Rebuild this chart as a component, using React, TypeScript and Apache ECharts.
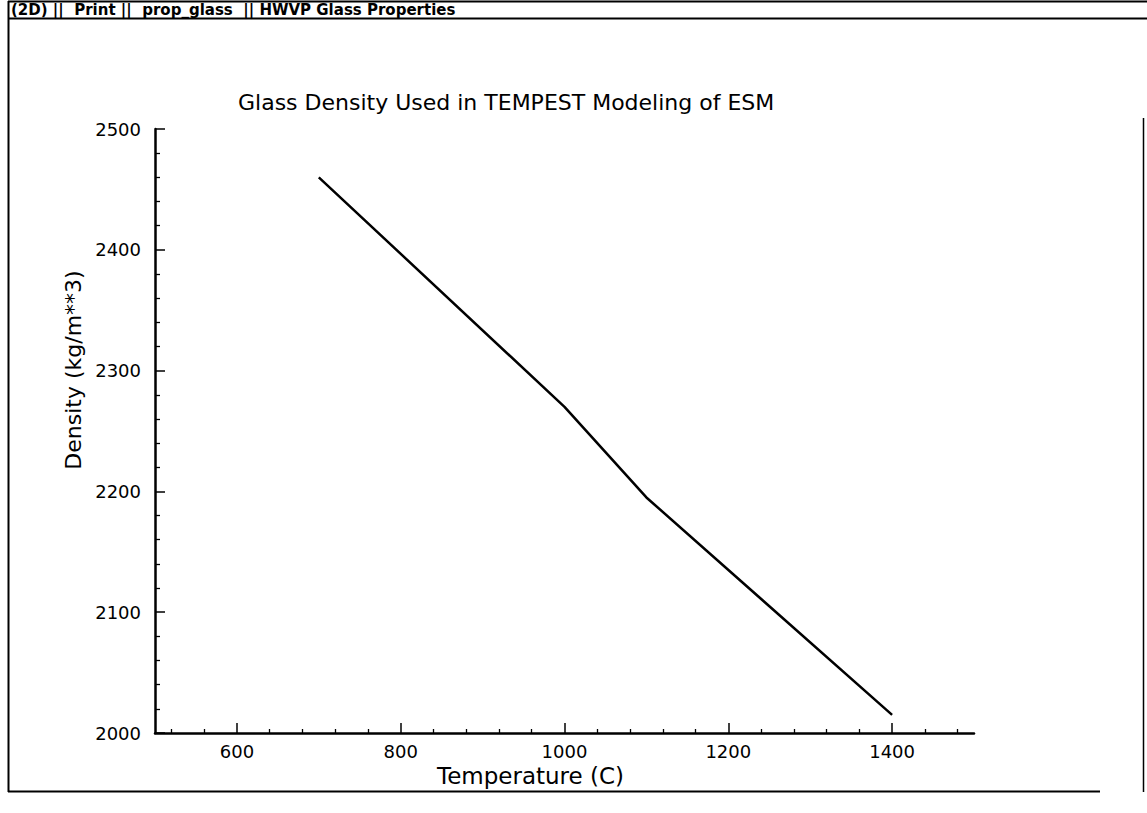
import React, { useEffect, useRef } from "react";
import * as echarts from "echarts";

const headerText = "(2D) ||  Print ||  prop_glass  || HWVP Glass Properties";
const chartTitle = "Glass Density Used in TEMPEST Modeling of ESM";
const xName = "Temperature (C)";
const yName = "Density (kg/m**3)";

const temperature = [700, 1000, 1100, 1400];
const density = [2460, 2270, 2195, 2015];

const xMajorTicks = [600, 800, 1000, 1200, 1400];
const xMinorTicks = [520, 560, 640, 680, 720, 760, 840, 880, 920, 960, 1040, 1080, 1120, 1160, 1240, 1280, 1320, 1360, 1440, 1480];

const FONT = "'DejaVu Sans', 'Liberation Sans', Arial, sans-serif";

export default function App() {
  const ref = useRef<HTMLDivElement>(null);
  useEffect(() => {
    if (!ref.current) return;
    const chart = echarts.init(ref.current, null, { renderer: "svg" });
    const option: any = {
      animation: false,
      backgroundColor: "#ffffff",
      textStyle: { fontFamily: FONT, color: "#000" },
      title: {
        text: chartTitle,
        left: 233,
        top: 86,
        textStyle: { fontFamily: FONT, fontSize: 22, fontWeight: "normal", color: "#000" },
      },
      grid: { left: 155, top: 129, right: 173, bottom: 80, containLabel: false },
      xAxis: [
        {
          type: "value",
          min: 500,
          max: 1500,
          interval: 100,
          position: "bottom",
          name: xName,
          nameLocation: "middle",
          nameGap: 28,
          nameTextStyle: { fontFamily: FONT, fontSize: 23, color: "#000", padding: [0, 68, 0, 0] },
          axisLine: { show: true, lineStyle: { color: "#000", width: 2.5 } },
          axisTick: { show: true, inside: true, length: 10, lineStyle: { color: "#000", width: 1.5 }, customValues: xMajorTicks },
          axisLabel: { show: true, margin: 9, fontFamily: FONT, fontSize: 18, color: "#000", customValues: xMajorTicks, formatter: (v: number) => String(v) },
          splitLine: { show: false },
        },
        {
          type: "value",
          min: 500,
          max: 1500,
          interval: 100,
          position: "bottom",
          axisLine: { show: false },
          axisTick: { show: true, inside: true, length: 4, lineStyle: { color: "#000", width: 1.3 }, customValues: xMinorTicks },
          axisLabel: { show: false },
          splitLine: { show: false },
        },
      ],
      yAxis: {
        type: "value",
        min: 2000,
        max: 2500,
        interval: 100,
        name: yName,
        nameLocation: "middle",
        nameGap: 69,
        nameTextStyle: { fontFamily: FONT, fontSize: 22, color: "#000", padding: [0, 0, 0, 122] },
        axisLine: { show: true, lineStyle: { color: "#000", width: 2.5 } },
        axisTick: { show: true, inside: true, length: 10, lineStyle: { color: "#000", width: 1.5 } },
        minorTick: { show: true, splitNumber: 5, length: 5, lineStyle: { color: "#000", width: 1.3 } },
        axisLabel: { margin: 14, fontFamily: FONT, fontSize: 18, color: "#000", formatter: (v: number) => String(v) },
        splitLine: { show: false },
      },
      series: [
        {
          type: "line",
          data: temperature.map((t, i) => [t, density[i]]),
          showSymbol: false,
          symbol: "none",
          lineStyle: { color: "#000", width: 2.5 },
        },
      ],
      graphic: [
        { type: "line", shape: { x1: 8, y1: 1.5, x2: 1147, y2: 1.5 }, style: { stroke: "#000", lineWidth: 2 } },
        { type: "line", shape: { x1: 8, y1: 18.5, x2: 1147, y2: 18.5 }, style: { stroke: "#000", lineWidth: 2 } },
        { type: "line", shape: { x1: 8.5, y1: 1, x2: 8.5, y2: 792 }, style: { stroke: "#000", lineWidth: 2 } },
        { type: "line", shape: { x1: 8, y1: 791.5, x2: 1100, y2: 791.5 }, style: { stroke: "#000", lineWidth: 2 } },
        { type: "line", shape: { x1: 1143.5, y1: 118, x2: 1143.5, y2: 792 }, style: { stroke: "#000", lineWidth: 1.5 } },
        {
          type: "text",
          x: 11,
          y: 2,
          style: { text: headerText, fontFamily: FONT, fontSize: 15, fontWeight: "bold", fill: "#000" },
        },
      ],
    };
    chart.setOption(option);
    return () => chart.dispose();
  }, []);
  return (
    <div
      ref={ref}
      style={{ position: "fixed", left: 0, top: 0, width: 1147, height: 813 }}
    />
  );
}
